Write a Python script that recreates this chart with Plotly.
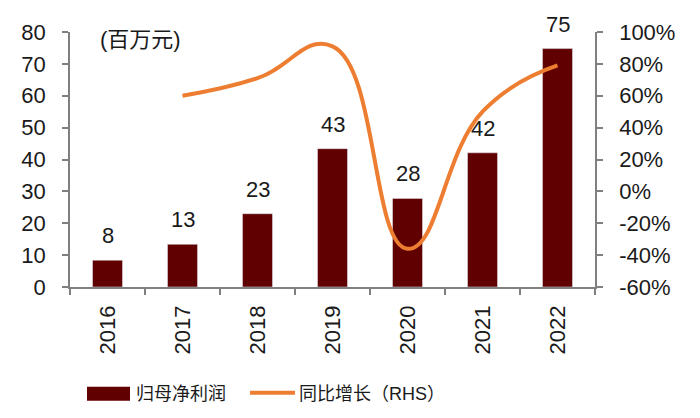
import plotly.graph_objects as go

years = ["2016", "2017", "2018", "2019", "2020", "2021", "2022"]
profit = [8.4, 13.4, 23.0, 43.4, 27.8, 42.1, 74.8]
profit_labels = ["8", "13", "23", "43", "28", "42", "75"]
growth_years = ["2017", "2018", "2019", "2020", "2021", "2022"]
growth = [60, 71, 91, -36, 50, 79]
pct_ticks = [-60, -40, -20, 0, 20, 40, 60, 80, 100]
pct_labels = ["-60%", "-40%", "-20%", "0%", "20%", "40%", "60%", "80%", "100%"]

BAR = "#600000"
LINE = "#ED7D31"
AX = "#808080"
FONT = "Liberation Sans, Arial, Noto Sans CJK SC, sans-serif"

fig = go.Figure()
fig.add_trace(go.Bar(x=years, y=profit, marker_color=BAR, width=0.4,
                     name="归母净利润", yaxis="y"))
fig.add_trace(go.Scatter(x=growth_years, y=growth, mode="lines",
                         line=dict(color=LINE, width=4, shape="spline", smoothing=1.3),
                         name="同比增长（RHS）", yaxis="y2"))

for i, (v, t) in enumerate(zip(profit, profit_labels)):
    fig.add_annotation(x=i, y=v, text=t, showarrow=False, yanchor="bottom",
                       yshift=10, font=dict(size=22, color="#1a1a1a", family=FONT),
                       xref="x", yref="y")

fig.add_annotation(x=0.053, y=0.969, xref="paper", yref="paper", text="(百万元)",
                   showarrow=False, xanchor="left", yanchor="middle",
                   font=dict(size=22, color="#1a1a1a", family=FONT))

# custom legend
fig.add_shape(type="rect", xref="paper", yref="paper",
              x0=(87 - 70) / 525, x1=(130 - 70) / 525,
              y0=(287 - 402) / 258, y1=(287 - 388) / 258,
              fillcolor=BAR, line=dict(width=0))
fig.add_annotation(x=(134 - 70) / 525, y=(287 - 395) / 258, xref="paper", yref="paper",
                   text="归母净利润", showarrow=False, xanchor="left", yanchor="middle",
                   font=dict(size=18, color="#1a1a1a", family=FONT))
fig.add_shape(type="line", xref="paper", yref="paper",
              x0=(250 - 70) / 525, x1=(295 - 70) / 525,
              y0=(287 - 394) / 258, y1=(287 - 394) / 258,
              line=dict(color=LINE, width=4))
fig.add_annotation(x=(297 - 70) / 525, y=(287 - 395) / 258, xref="paper", yref="paper",
                   text="同比增长（RHS）", showarrow=False, xanchor="left", yanchor="middle",
                   font=dict(size=18, color="#1a1a1a", family=FONT))

fig.update_layout(
    width=692, height=410,
    margin=dict(l=62, r=105, t=21, b=131),
    paper_bgcolor="white", plot_bgcolor="white",
    showlegend=False,
    font=dict(family=FONT, size=22, color="#1a1a1a"),
    xaxis=dict(type="category", range=[-0.5, 6.5], autorange=False,
               showline=True, linecolor=AX, linewidth=1.5,
               ticks="outside", ticklen=6, tickcolor=AX, tickwidth=1.5,
               tickson="boundaries", tickangle=-90, showgrid=False,
               tickfont=dict(size=22), ticklabelstandoff=8),
    yaxis=dict(range=[0, 80], dtick=10, showline=True, linecolor=AX, linewidth=1.5,
               ticks="outside", ticklen=6, tickcolor=AX, tickwidth=1.5,
               showgrid=False, zeroline=False, tickfont=dict(size=22),
               ticklabelstandoff=12),
    yaxis2=dict(range=[-60, 100], tickvals=pct_ticks, ticktext=pct_labels,
                overlaying="y", side="right",
                showline=True, linecolor=AX, linewidth=1.5,
                ticks="outside", ticklen=6, tickcolor=AX, tickwidth=1.5,
                showgrid=False, zeroline=False,
                tickfont=dict(size=22), ticklabelstandoff=12),
)

fig.write_html("out.html")
